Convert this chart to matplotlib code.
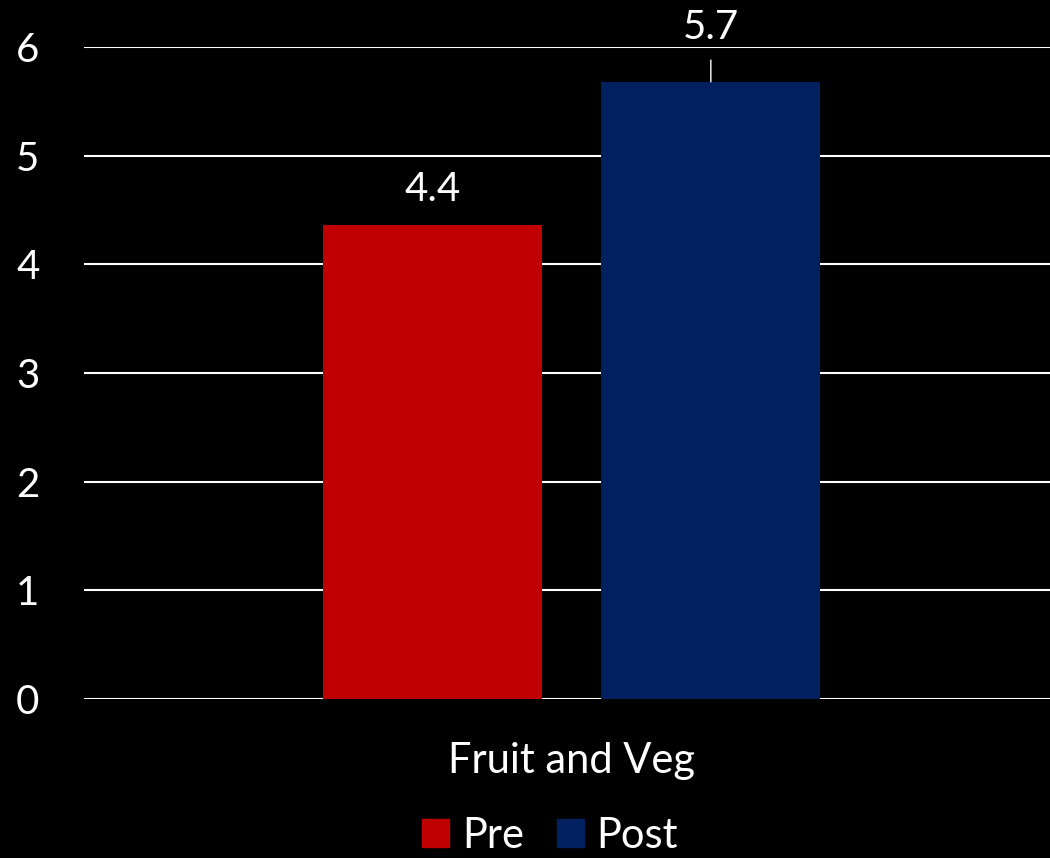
import numpy as np
import matplotlib.pyplot as plt
from matplotlib.patches import Patch

plt.rcParams['font.family'] = ['Lato', 'DejaVu Sans']

category = "Fruit and Veg"
series = ["Pre", "Post"]
values = [4.36, 5.68]
colors = ["#C00000", "#002060"]
yticks = [0, 1, 2, 3, 4, 5, 6]

fig = plt.figure(figsize=(10.5, 8.58), dpi=100, facecolor="black")
ax = fig.add_axes([0.08, 0.1853, 0.92, 0.7599], facecolor="black")

width = 0.2267
offsets = [-0.1439, 0.1439]
for name, v, c, off in zip(series, values, colors, offsets):
    ax.bar(off, v, width=width, color=c, zorder=3, label=name)

# value labels
ax.annotate(f"{values[0]:.1f}", (offsets[0], values[0]), xytext=(0, 26),
            textcoords="offset points", ha="center", va="center",
            color="white", fontsize=29, annotation_clip=False)
ax.annotate(f"{values[1]:.1f}", (offsets[1], values[1]), xytext=(0, 39),
            textcoords="offset points", ha="center", va="center",
            color="white", fontsize=29, annotation_clip=False,
            arrowprops=dict(arrowstyle="-", color="white", lw=1,
                            shrinkA=8, shrinkB=0))

ax.set_xlim(-0.505, 0.495)
ax.set_ylim(0, 6)
ax.set_yticks(yticks)
ax.set_yticklabels([str(t) for t in yticks])
ax.yaxis.grid(True, color="white", lw=1.5)
ax.set_axisbelow(True)
ax.set_xticks([0])
ax.set_xticklabels([category])
ax.tick_params(axis="y", length=0, pad=32, labelsize=29, labelcolor="white")
ax.tick_params(axis="x", length=0, pad=31, labelsize=30, labelcolor="white")
for s in ax.spines.values():
    s.set_visible(False)

handles = [Patch(color=c, label=n) for n, c in zip(series, colors)]
fig.legend(handles=handles, loc="lower center", bbox_to_anchor=(0.524, -0.04),
           ncol=2, frameon=False, fontsize=30, labelcolor="white",
           handlelength=0.65, handleheight=0.65, handletextpad=0.3,
           columnspacing=0.8)

fig.savefig("out.png", dpi=100, facecolor="black")
